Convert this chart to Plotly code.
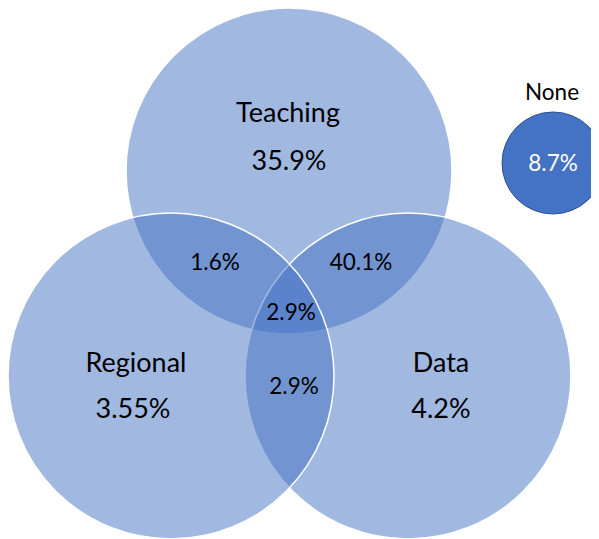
import plotly.graph_objects as go

# ---------------- data ----------------
set_names = ["Teaching", "Regional", "Data"]
set_only_values = [35.9, 3.55, 4.2]
pair_names = ["Teaching & Regional", "Teaching & Data", "Regional & Data"]
pair_values = [1.6, 40.1, 2.9]
triple_value = 2.9
none_name = "None"
none_value = 8.7

# ---------------- layout (pixel space of the 599x539 window) ----------------
W, H = 599, 539
OFF = 8  # default page body margin
TY = 3   # vertical text baseline adjustment
R = 163
set_centers = {"Teaching": (289, 171), "Regional": (171, 376), "Data": (408, 376)}
draw_order = ["Teaching", "Data", "Regional"]
set_name_pos = {"Teaching": (288, 112), "Regional": (136, 362), "Data": (441, 362)}
set_value_pos = {"Teaching": (289, 160), "Regional": (133, 408), "Data": (441, 408)}
pair_pos = [(215, 261), (361, 261), (294, 385)]
triple_pos = (291, 311)
none_center = (553, 163)
none_r = 51
none_name_pos = (552, 91)

def pct(v):
    return f"{v}%"

fig = go.Figure()

shapes = []
for name in draw_order:
    cx, cy = set_centers[name]
    shapes.append(dict(type="circle", xref="x", yref="y", layer="below",
                       x0=cx - R, x1=cx + R, y0=cy - R, y1=cy + R,
                       fillcolor="rgba(68,114,196,0.5)",
                       line=dict(color="white", width=1.5)))
nx, ny = none_center
shapes.append(dict(type="circle", xref="x", yref="y", layer="below",
                   x0=nx - none_r, x1=nx + none_r, y0=ny - none_r, y1=ny + none_r,
                   fillcolor="#4472C4", line=dict(color="#2F528F", width=1)))

FAM = "Lato, 'Open Sans', sans-serif"
big_font = dict(family=FAM, size=27, color="#000000")
small_font = dict(family=FAM, size=22.5, color="#000000")

# set names and exclusive values
fig.add_trace(go.Scatter(
    x=[set_name_pos[n][0] for n in set_names] + [set_value_pos[n][0] for n in set_names],
    y=[set_name_pos[n][1] + TY for n in set_names] + [set_value_pos[n][1] + TY for n in set_names],
    text=set_names + [pct(v) for v in set_only_values],
    mode="text", textposition="middle center", textfont=big_font,
    hoverinfo="text", showlegend=False))

# pair and triple overlaps
fig.add_trace(go.Scatter(
    x=[p[0] for p in pair_pos] + [triple_pos[0]],
    y=[p[1] + TY for p in pair_pos] + [triple_pos[1] + TY],
    text=[pct(v) for v in pair_values] + [pct(triple_value)],
    hovertext=pair_names + ["All three"],
    mode="text", textposition="middle center", textfont=small_font,
    hoverinfo="text", showlegend=False))

# none
fig.add_trace(go.Scatter(
    x=[none_name_pos[0]], y=[none_name_pos[1] + TY], text=[none_name],
    mode="text", textposition="middle center", textfont=small_font,
    hoverinfo="text", showlegend=False))
fig.add_trace(go.Scatter(
    x=[nx], y=[ny + TY - 1], text=[pct(none_value)],
    mode="text", textposition="middle center",
    textfont=dict(family=FAM, size=22.5, color="white"),
    hoverinfo="text", showlegend=False))

fig.update_layout(
    width=W - OFF, height=H - OFF, autosize=False,
    margin=dict(l=0, r=0, t=0, b=0, pad=0),
    paper_bgcolor="white", plot_bgcolor="white",
    shapes=shapes,
    xaxis=dict(range=[OFF, W], visible=False, fixedrange=True),
    yaxis=dict(range=[H, OFF], visible=False, fixedrange=True),
)

fig.write_html("out.html")
